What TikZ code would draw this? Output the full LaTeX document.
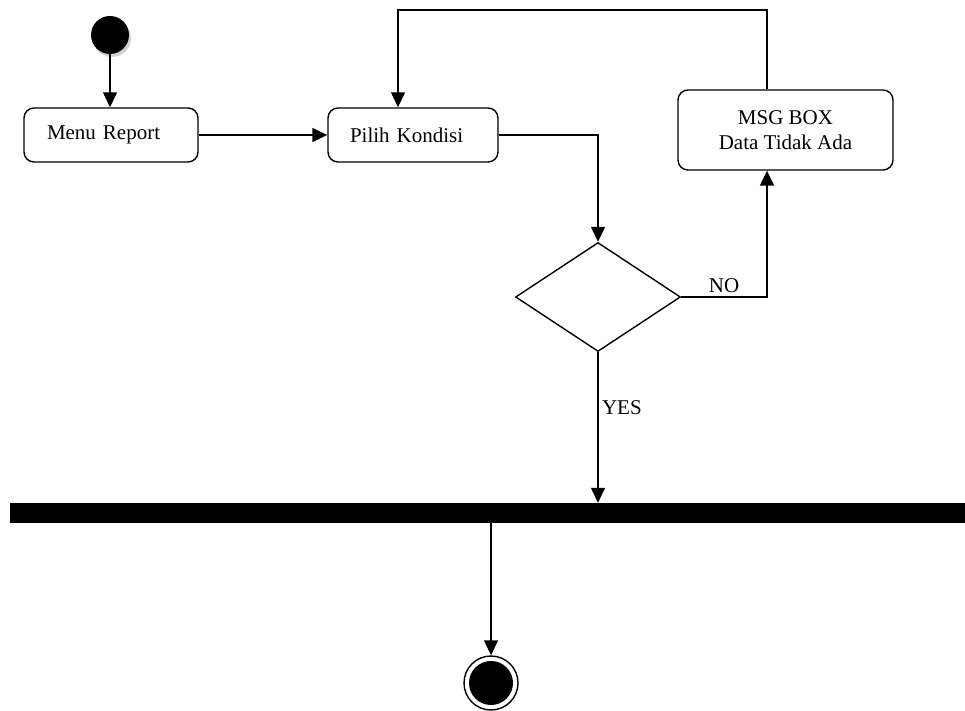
\documentclass[tikz,border=0pt]{standalone}
\usepackage{fontspec}
\setmainfont{Liberation Serif}
\usetikzlibrary{positioning}
\usetikzlibrary{shapes.geometric,arrows.meta,shadows}

\begin{document}
\begin{tikzpicture}[x=1pt, y=-1pt,
	actnode/.style={rectangle, rounded corners=10pt, draw=black, line width=1.4pt, minimum height=54pt, font=\fontsize{21}{25}\selectfont},
	flow/.style={line width=1.4pt, -{Triangle[width=14pt,length=15pt]}},
	endnode/.style={circle, draw=black, line width=1.4pt, minimum size=54pt, inner sep=0pt, path picture={\fill[black] (path picture bounding box.center) circle (22pt);}}]
	\useasboundingbox (0,0) rectangle (965,711);
	\node[circle, fill=black, minimum size=38pt, inner sep=0pt, drop shadow={shadow xshift=2pt, shadow yshift=-3pt, fill=black!35}] (start) at (110,35) {};
	\node[actnode, text width=128pt, inner xsep=23pt, align=left] (menu) at (111,135) {Menu Report};
	\node[actnode, text width=126pt, inner xsep=22pt, align=left] (pilih) at (413,135) {Pilih Kondisi};
	\node[diamond, draw=black, line width=1.4pt, minimum width=165pt, minimum height=109pt, inner sep=0pt] (dec) at (598,297) {};
	\node[actnode, minimum width=215pt, minimum height=80pt, align=center] (msg) at (785.5,130) {MSG BOX\\Data Tidak Ada};
	\node[rectangle, fill=black, minimum width=955pt, minimum height=20pt, inner sep=0pt] (bar) at (487.5,513) {};
	\node[endnode] (stop) at (491,683) {};
	\coordinate (loop) at (767,10);
	\coordinate (back) at (398,10);
	\draw[flow] (start) -- (start |- menu.north);
	\draw[flow] (menu) -- (pilih);
	\draw[flow] (pilih.east) -| (dec.north);
	\draw[flow] (dec.east) -| (loop |- msg.south) node[pos=0.25, above] {\fontsize{21}{25}\selectfont NO};
	\draw[flow] (loop |- msg.north) -- (loop) -- (back) -- (back |- pilih.north);
	\draw[flow] (dec.south) -- (dec.south |- bar.north) node[pos=0.37, right] {\fontsize{21}{25}\selectfont YES};
	\draw[flow] (bar.south -| stop) -- (stop.north);
\end{tikzpicture}
\end{document}
